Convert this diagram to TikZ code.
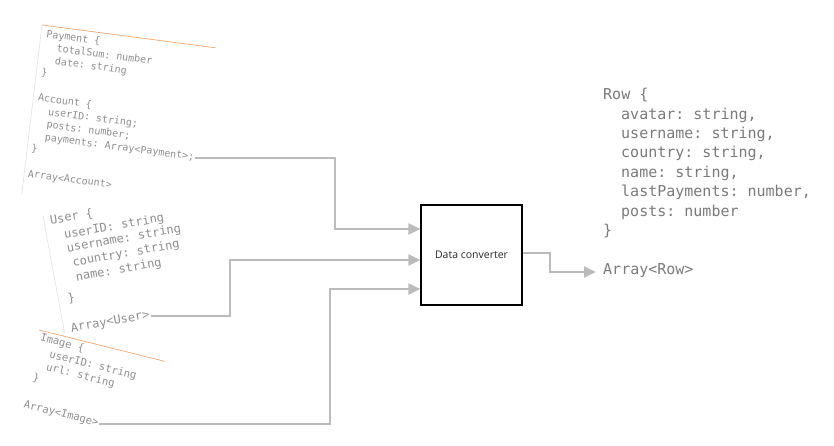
\documentclass[tikz,border=0pt]{standalone}
\usepackage{fontspec}
\setmonofont{DejaVu Sans Mono}
\setsansfont{Open Sans}
\usepackage{tikz}
\usetikzlibrary{arrows.meta}
\definecolor{codegray}{HTML}{8E8E8E}
\definecolor{rowgray}{HTML}{7A7A7A}
\definecolor{wiregray}{HTML}{BBBBBB}
\definecolor{ruleorange}{HTML}{F7A66B}
\definecolor{rulegray}{HTML}{E2E2E2}
\tikzset{
	codetext/.style={anchor=west, inner sep=1pt, text height=1.6ex, text depth=0.5ex,
		transform shape, text=codegray, font=\ttfamily\fontsize{#1}{#1}\selectfont},
	codetext/.default=10
}
\tikzset{
	rowtext/.style={anchor=west, inner sep=0pt, text height=1.6ex, text depth=0.5ex,
		text=rowgray, font=\ttfamily\fontsize{15}{15}\selectfont}
}
\tikzset{
	wire/.style={draw=wiregray, line width=2pt, -{Triangle[length=12pt,width=11pt]}},
	orangerule/.style={draw=ruleorange, line width=0.7pt},
	grayrule/.style={draw=rulegray, line width=0.6pt},
	convbox/.style={draw=black, line width=1.2pt, minimum width=101, minimum height=100,
		text=black!85, font=\sffamily\fontsize{10.5}{12}\selectfont}
}

\begin{document}
\begin{tikzpicture}[x=1pt, y=-1pt]
  \useasboundingbox (0,0) rectangle (834,446);
  % Payment / Account
  \begin{scope}[shift={(42,25)}, rotate=-7.5]
    \draw[orangerule] (0,0) -- (175,0);
    \draw[grayrule] (0,0) -- (2,170);
    \foreach \n/\x/\t in {0/4.5/Payment \{, 1/16.5/totalSum: number, 2/16.5/date: string,
        3/4.5/\}, 5/4.5/Account \{, 6/16.5/userID: string;, 7/16.5/posts: number;,
        8/16.5/payments: Array<Payment>;, 9/4.5/\}, 11/4.5/Array<Account>}
      \node[codetext=10] (acc-\n) at (\x,{9.5+\n*12.8}) {\t};
  \end{scope}
  % User
  \begin{scope}[shift={(43,216)}, rotate=10]
    \draw[grayrule] (0,0) -- (1,119);
    \foreach \x/\y/\t [count=\n] in {5/7.3/User \{, 16.4/23.9/userID: string,
        16.7/37.5/username: string, 19.9/52.6/country: string, 20.6/67.6/name: string,
        8.7/86.9/\}, 6.8/117/Array<User>}
      \node[codetext=12] (usr-\n) at (\x,\y) {\t};
  \end{scope}
  % Image
  \begin{scope}[shift={(39,330)}, rotate=-14]
    \draw[orangerule] (0,0) -- (130,0);
    \foreach \x/\y/\t [count=\n] in {2.3/8/Image \{, 15.1/22/userID: string,
        15/35.1/url: string, 4.5/48/\}, 2.3/76.7/Array<Image>}
      \node[codetext=10.6] (img-\n) at (\x,\y) {\t};
  \end{scope}
  % Row
  \foreach \x/\t [count=\n from 0] in {603/Row \{, 621/{avatar: string,},
      621/{username: string,}, 621/{country: string,}, 621/{name: string,},
      621/{lastPayments: number,}, 621/posts: number, 603/\}}
    \node[rowtext] (row-\n) at (\x,{97.3+\n*19.4}) {\t};
  \node[rowtext, inner xsep=7pt] (rowarr) at (596,272) {Array<Row>};

  \node[convbox] (conv) at (471.5,255) {Data converter};

  \draw[wire] (acc-8.east) -| (335,229) -- (conv.west |- 0,229);
  \draw[wire] (usr-7.east) -| (230,260) -- (conv.west |- 0,260);
  \draw[wire] (img-5.east) -| (330,289) -- (conv.west |- 0,289);
  \draw[wire] (conv.east |- 0,253) -| (550,272) -- (rowarr.west);
\end{tikzpicture}
\end{document}
